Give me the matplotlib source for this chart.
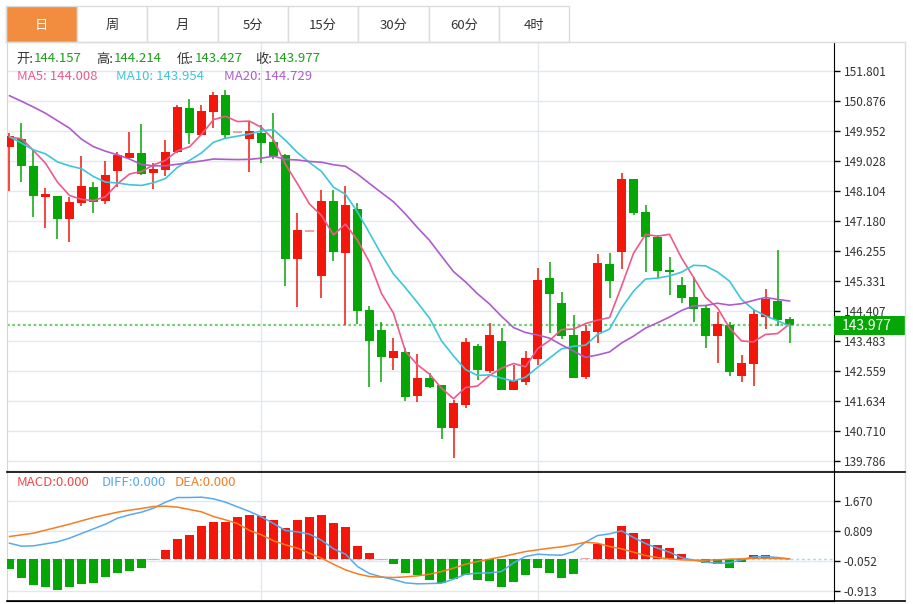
import numpy as np
import pandas as pd
import matplotlib
matplotlib.use('Agg')
import matplotlib.pyplot as plt
from matplotlib.patches import Rectangle
from matplotlib.lines import Line2D

plt.rcParams['font.family'] = ['Noto Sans CJK SC', 'DejaVu Sans']

# daily candles
opens = [149.47, 149.71, 148.88, 147.91, 147.95, 147.24, 147.75, 148.24, 147.79, 148.72,
         149.12, 149.28, 148.65, 148.74, 149.30, 150.67, 149.84, 150.53, 151.05, 149.89,
         149.72, 149.90, 149.61, 149.22, 146.00, 146.84, 145.49, 147.80, 146.20, 147.55,
         144.44, 143.83, 142.97, 143.14, 141.80, 142.35, 142.13, 140.81, 141.50, 143.33,
         142.56, 143.48, 141.96, 142.22, 142.93, 145.43, 144.65, 143.67, 142.38, 143.75,
         145.85, 146.22, 148.46, 147.45, 146.70, 145.67, 145.20, 144.84, 144.49, 143.63,
         143.99, 142.40, 142.78, 144.23, 144.73, 144.157]
highs = [149.88, 150.19, 149.37, 148.21, 147.95, 147.93, 149.18, 148.38, 149.03, 149.30,
         149.93, 150.16, 148.97, 149.68, 150.76, 150.94, 150.76, 151.16, 151.22, 149.89,
         150.26, 150.14, 150.50, 149.25, 147.43, 146.84, 148.14, 148.12, 148.27, 147.75,
         144.56, 144.07, 143.59, 143.28, 143.08, 142.49, 142.13, 141.67, 143.57, 143.39,
         144.03, 143.88, 142.74, 143.19, 145.72, 145.91, 144.99, 144.28, 143.98, 146.17,
         146.19, 148.65, 148.46, 147.68, 146.75, 146.08, 145.45, 145.47, 144.56, 144.39,
         144.06, 143.05, 144.44, 145.08, 146.29, 144.214]
lows = [148.10, 148.39, 147.31, 146.95, 146.62, 146.54, 147.64, 147.42, 147.69, 148.24,
        149.09, 148.60, 148.18, 148.58, 149.27, 149.54, 149.83, 150.06, 149.70, 149.89,
        148.70, 148.98, 149.09, 145.19, 144.54, 146.84, 144.82, 145.95, 143.98, 144.00,
        142.06, 142.22, 142.59, 141.63, 141.60, 142.03, 140.46, 139.89, 141.41, 142.28,
        142.49, 141.96, 141.96, 142.14, 142.74, 143.72, 143.54, 142.35, 142.30, 143.43,
        144.82, 145.69, 147.37, 145.60, 145.43, 144.90, 144.66, 144.08, 143.28, 142.80,
        142.42, 142.23, 142.11, 143.85, 143.96, 143.427]
closes = [149.81, 148.86, 147.96, 148.01, 147.24, 147.77, 148.25, 147.78, 148.61, 149.22,
          149.28, 148.64, 148.79, 149.32, 150.70, 149.88, 150.56, 151.06, 149.83, 149.89,
          149.95, 149.58, 149.19, 146.01, 146.90, 146.84, 147.81, 146.21, 147.66, 144.40,
          143.48, 142.98, 143.18, 141.75, 142.35, 142.06, 140.81, 141.56, 143.46, 142.59,
          143.66, 141.96, 142.28, 142.95, 145.36, 144.94, 143.65, 142.35, 143.80, 145.89,
          145.33, 148.46, 147.44, 146.70, 145.64, 145.61, 144.82, 144.46, 143.63, 144.00,
          142.52, 142.82, 144.31, 144.78, 144.13, 143.977]

# moving averages before enough candles are on screen
ma5_head = [149.76, 149.72, 149.35, 148.96]
ma10_head = [149.78, 149.58, 149.37, 149.25, 149.00, 148.88, 148.79, 148.55, 148.38]
ma20_head = [151.04, 150.87, 150.69, 150.50, 150.27, 150.04, 149.70, 149.47, 149.33, 149.22,
             149.09, 148.92, 148.88, 148.88, 148.93, 148.98, 149.03, 149.09, 149.08]

# MACD panel
diff = [0.459, 0.373, 0.383, 0.440, 0.498, 0.603, 0.737, 0.871, 1.005, 1.177,
        1.273, 1.349, 1.464, 1.636, 1.770, 1.770, 1.780, 1.732, 1.636, 1.502,
        1.369, 1.215, 1.024, 0.823, 0.785, 0.718, 0.545, 0.297, 0.144, -0.211,
        -0.412, -0.507, -0.584, -0.679, -0.708, -0.699, -0.689, -0.574, -0.431, -0.402,
        -0.392, -0.354, -0.105, 0.077, 0.144, 0.124, 0.115, 0.220, 0.488, 0.679,
        0.727, 0.813, 0.622, 0.450, 0.316, 0.201, 0.048, -0.029, -0.086, -0.115,
        -0.105, -0.019, 0.067, 0.077, 0.048, 0.010]
dea = [0.651, 0.699, 0.746, 0.833, 0.919, 1.005, 1.101, 1.196, 1.273, 1.349,
       1.407, 1.455, 1.512, 1.522, 1.493, 1.426, 1.359, 1.225, 1.129, 1.024,
       0.823, 0.699, 0.526, 0.412, 0.316, 0.172, 0.029, -0.144, -0.306, -0.421,
       -0.498, -0.517, -0.526, -0.507, -0.479, -0.431, -0.354, -0.258, -0.144, -0.067,
       0.000, 0.067, 0.144, 0.220, 0.268, 0.316, 0.354, 0.412, 0.488, 0.459,
       0.364, 0.297, 0.201, 0.105, 0.048, 0.010, -0.019, -0.029, -0.029, -0.019,
       0.000, 0.010, 0.029, 0.029, 0.019, 0.010]
macd = [-0.287, -0.545, -0.727, -0.804, -0.880, -0.794, -0.718, -0.679, -0.517, -0.392,
        -0.325, -0.239, -0.020, 0.278, 0.584, 0.699, 0.947, 1.081, 1.081, 1.206,
        1.273, 1.235, 1.129, 0.909, 1.139, 1.225, 1.273, 1.043, 0.928, 0.392,
        0.172, -0.010, -0.144, -0.383, -0.450, -0.584, -0.689, -0.574, -0.450, -0.603,
        -0.612, -0.785, -0.660, -0.459, -0.249, -0.402, -0.526, -0.421, 0.020, 0.440,
        0.612, 0.947, 0.756, 0.584, 0.402, 0.325, 0.144, 0.005, -0.105, -0.144,
        -0.239, -0.077, 0.124, 0.124, 0.012, 0.005]

price_ticks = [151.801, 150.876, 149.952, 149.028, 148.104, 147.180, 146.255,
               145.331, 144.407, 143.483, 142.559, 141.634, 140.710, 139.786]
macd_ticks = [1.670, 0.809, -0.052, -0.913]
tabs = ['日', '周', '月', '5分', '15分', '30分', '60分', '4时']
month_marks = [21, 44]

RED = '#f2170a'
GREEN = '#07a607'

W, H = 913, 604
fig = plt.figure(figsize=(W / 100, H / 100), dpi=100)
fig.patch.set_facecolor('white')

def fx(x):
    return x / W

def fy(y):
    return 1 - y / H

def hline(x0, x1, y, c, lw=1):
    fig.add_artist(Line2D([fx(x0), fx(x1)], [fy(y), fy(y)], color=c, lw=lw, transform=fig.transFigure))

def vline(x, y0, y1, c, lw=1):
    fig.add_artist(Line2D([fx(x), fx(x)], [fy(y0), fy(y1)], color=c, lw=lw, transform=fig.transFigure))

ax = fig.add_axes([fx(7), fy(471), fx(834) - fx(7), fy(42) - fy(471)])
axm = fig.add_axes([fx(7), fy(601), fx(834) - fx(7), fy(471) - fy(601)])

n = len(closes)
x = np.arange(n)
o = np.array(opens)
c = np.array(closes)
cols = [RED if c[i] > o[i] else (GREEN if c[i] < o[i] else '#f3a0a0') for i in range(n)]

# candles
ax.vlines(x, lows, highs, colors=cols, lw=1.1, zorder=3)
bottoms = np.minimum(o, c)
heights = np.maximum(np.abs(c - o), 0.05)
ax.bar(x, heights, bottom=bottoms, width=0.72, color=cols, zorder=4)

# moving averages
cs = pd.Series(closes)
ma5 = cs.rolling(5).mean().values
ma10 = cs.rolling(10).mean().values
ma20 = cs.rolling(20).mean().values
ma5[:4] = ma5_head
ma10[:9] = ma10_head
ma20[:19] = ma20_head
ax.plot(x, ma5, color='#ee5a8a', lw=1.2, zorder=5)
ax.plot(x, ma10, color='#3dc6da', lw=1.2, zorder=5)
ax.plot(x, ma20, color='#ae5ccc', lw=1.2, zorder=5)

ax.axhline(closes[-1], color='#72cf72', lw=1.6, ls=(0, (1.2, 1.2)), zorder=2)

for a in (ax, axm):
    a.set_xlim(-0.208, 68.708)
    a.yaxis.tick_right()
    a.set_xticks([])
    a.tick_params(axis='y', direction='out', length=4, width=1, colors='black',
                  labelcolor='#333333', labelsize=8.5, pad=3)
    a.grid(axis='y', color='#e3e8ee', lw=1)
    for m in month_marks:
        a.axvline(m, color='#e3e8ee', lw=1, zorder=0)
    a.set_axisbelow(True)
    a.spines['top'].set_visible(False)
    a.spines['left'].set_color('#d6d6d6')
    a.spines['right'].set_color('black')
    a.spines['bottom'].set_color('black')

ax.set_ylim(139.478, 152.695)
ax.set_yticks(price_ticks)
ax.set_yticklabels(['%.3f' % t for t in price_ticks])

# MACD
mc = np.array(macd)
bar_cols = []
for v in mc:
    if abs(v) < 0.03:
        bar_cols.append('#f3a0a0' if v > 0 else '#8fd88f')
    else:
        bar_cols.append(RED if v > 0 else GREEN)
axm.bar(x, mc, width=0.72, color=bar_cols, zorder=3)
axm.axhline(0, color='#a9d8ee', lw=1, ls=(0, (2, 2)), zorder=2)
axm.plot(x, diff, color='#55aaf0', lw=1.1, zorder=4)
axm.plot(x, dea, color='#f57d22', lw=1.1, zorder=4)
axm.set_ylim(-1.200, 2.531)
axm.set_yticks(macd_ticks)
axm.set_yticklabels(['%.3f' % t for t in macd_ticks])

# frame lines
hline(6, 905, 42, '#dcdcdc')
vline(905, 42, 601, '#dcdcdc')
vline(6, 6, 42, '#dcdcdc')
hline(7, 905, 471.5, 'black', 1.2)
hline(7, 905, 601, 'black', 1.2)

# tab bar
edges = [6, 77, 147, 218, 288, 358, 429, 499, 569]
for k, name in enumerate(tabs):
    x0, x1 = edges[k], edges[k + 1]
    fc = '#f28c3e' if k == 0 else 'white'
    fig.add_artist(Rectangle((fx(x0), fy(42)), fx(x1) - fx(x0), fy(6) - fy(42),
                             transform=fig.transFigure, facecolor=fc, edgecolor='#dcdcdc', lw=1))
    fig.text(fx((x0 + x1) / 2), fy(25), name, ha='center', va='center', fontsize=9.5,
             color='white' if k == 0 else '#333333')

# header texts
info = [('开:', '144.157', 16), ('高:', '144.214', 96), ('低:', '143.427', 177), ('收:', '143.977', 255)]
for lab, val, xp in info:
    fig.text(fx(xp), fy(59), lab, ha='left', va='center', fontsize=9.5, color='#333333')
    fig.text(fx(xp + 18), fy(59), val, ha='left', va='center', fontsize=9.5, color='#17a117')

ma_labels = [('MA5: %.3f' % 144.008, '#ee5a8a', 17), ('MA10: %.3f' % 143.954, '#3dc6da', 116),
             ('MA20: %.3f' % 144.729, '#ae5ccc', 224)]
for txt, col, xp in ma_labels:
    fig.text(fx(xp), fy(77), txt, ha='left', va='center', fontsize=9.5, color=col)

macd_labels = [('MACD:0.000', '#f04848', 17), ('DIFF:0.000', '#55aaf0', 102), ('DEA:0.000', '#f57d22', 175)]
for txt, col, xp in macd_labels:
    fig.text(fx(xp), fy(482), txt, ha='left', va='center', fontsize=9.5, color=col)

# last price tag
fig.add_artist(Rectangle((fx(834), fy(335)), fx(905) - fx(834), fy(316) - fy(335),
                         transform=fig.transFigure, facecolor='#07a607', edgecolor='none'))
fig.text(fx(842), fy(325.5), '%.3f' % closes[-1], ha='left', va='center', fontsize=10, color='white')

fig.savefig('out.png', dpi=100)
